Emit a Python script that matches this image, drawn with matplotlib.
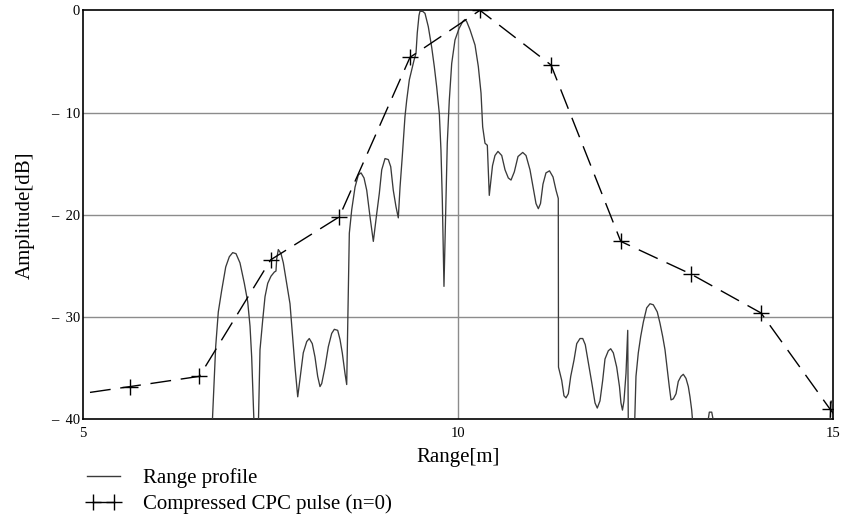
import numpy as np
import matplotlib
matplotlib.use("Agg")
import matplotlib.pyplot as plt
from matplotlib.lines import Line2D
from matplotlib.legend_handler import HandlerLine2D

# ---- data ----
profile_x = [6.72, 6.769, 6.804, 6.849, 6.903, 6.951, 6.996, 7.040, 7.093, 7.151, 7.196, 7.227, 7.249, 7.280,
             7.31, 7.337, 7.360, 7.396, 7.427, 7.463, 7.507, 7.551, 7.573, 7.583, 7.604, 7.640, 7.671, 7.716,
             7.760, 7.791, 7.827, 7.863, 7.907, 7.937, 7.983, 8.017, 8.057, 8.093, 8.129, 8.160, 8.183, 8.227,
             8.271, 8.316, 8.351, 8.396, 8.427, 8.457, 8.493, 8.516, 8.537, 8.551, 8.583, 8.627, 8.671, 8.707,
             8.747, 8.783, 8.827, 8.871, 8.916, 8.951, 8.983, 9.027, 9.071, 9.103, 9.137, 9.173, 9.204, 9.227,
             9.257, 9.293, 9.316, 9.351, 9.383, 9.413, 9.440, 9.457, 9.480, 9.493, 9.529, 9.560, 9.604, 9.649,
             9.684, 9.716, 9.751, 9.773, 9.791, 9.804, 9.813, 9.840, 9.857, 9.884, 9.916, 9.960, 10.013, 10.063,
             10.093, 10.116, 10.160, 10.227, 10.271, 10.307, 10.329, 10.360, 10.391, 10.417, 10.460, 10.493,
             10.533, 10.583, 10.627, 10.671, 10.707, 10.751, 10.800, 10.863, 10.907, 10.960, 11.004, 11.040,
             11.071, 11.100, 11.133, 11.173, 11.220, 11.267, 11.307, 11.337, 11.340, 11.383, 11.413, 11.440,
             11.471, 11.503, 11.547, 11.583, 11.627, 11.663, 11.697, 11.737, 11.783, 11.827, 11.857, 11.893,
             11.929, 11.960, 12.004, 12.036, 12.071, 12.116, 12.153, 12.173, 12.193, 12.213, 12.240, 12.263,
             12.271, 12.31, 12.353, 12.373, 12.404, 12.436, 12.471, 12.516, 12.560, 12.604, 12.657, 12.693,
             12.729, 12.760, 12.791, 12.817, 12.840, 12.871, 12.907, 12.937, 12.973, 13.004, 13.040, 13.071,
             13.093, 13.116, 13.137, 13.23, 13.316, 13.351, 13.383, 13.427, 14.2, 14.955, 14.975, 15.0]
profile_y = [-41.0, -32.9, -29.5, -27.4, -25.1, -24.1, -23.7, -23.8, -24.7, -26.7, -28.5, -30.9, -33.9, -40.4,
             -45.0, -41.0, -33.2, -30.3, -28.0, -26.7, -26.0, -25.6, -25.5, -24.3, -23.4, -23.8, -24.7, -26.7,
             -28.7, -31.6, -34.9, -37.8, -35.2, -33.5, -32.4, -32.1, -32.6, -33.9, -35.8, -36.8, -36.5, -34.9,
             -32.9, -31.6, -31.2, -31.3, -32.2, -33.5, -35.5, -36.6, -27.4, -21.8, -19.5, -17.3, -16.1, -15.9,
             -16.4, -17.6, -20.2, -22.6, -19.9, -17.9, -15.6, -14.5, -14.6, -15.3, -17.6, -19.2, -20.3, -17.3,
             -14.3, -10.4, -8.8, -6.8, -5.8, -4.9, -4.2, -2.2, -0.5, -0.1, -0.1, -0.3, -1.6, -3.6,
             -5.5, -7.5, -10.1, -13.7, -18.6, -23.4, -27.0, -18.6, -13.0, -8.8, -5.2, -2.9, -1.8, -1.1,
             -0.9, -1.1, -1.9, -3.4, -5.5, -8.1, -11.4, -13.0, -13.2, -18.1, -15.2, -14.2,
             -13.8, -14.2, -15.6, -16.4, -16.6, -15.8, -14.3, -13.9, -14.2, -15.6, -17.4, -18.9,
             -19.4, -18.9, -17.0, -15.9, -15.7, -16.3, -17.6, -18.4, -34.9, -36.2, -37.7, -37.9,
             -37.5, -35.8, -34.2, -32.6, -32.1, -32.1, -32.7, -34.4, -36.4, -38.4, -38.9, -38.2,
             -36.2, -34.1, -33.3, -33.1, -33.5, -34.9, -36.8, -38.4, -39.1, -38.2, -35.5, -31.3,
             -41.0, -45.0, -41.0, -35.8, -33.5, -31.9, -30.5, -29.1, -28.7, -28.8, -29.5, -30.6,
             -31.9, -33.2, -35.2, -36.8, -38.1, -38.0, -37.5, -36.3, -35.8, -35.6, -36.0, -36.8,
             -37.8, -39.1, -41.0, -45.0, -41.0, -39.3, -39.3, -41.0, -45.0, -41.0, -38.2, -38.5]

cpc_x = [4.69, 5.627, 6.551, 7.503, 8.417, 9.36, 10.293, 11.24, 12.17, 13.107, 14.04, 14.96, 15.9]
cpc_y = [-37.8, -36.8, -35.8, -24.4, -20.2, -4.6, 0.0, -5.35, -22.6, -25.8, -29.6, -39.0, -48.0]

xticks = [5, 10, 15]
xtick_labels = ["5", "10", "15"]
yticks = [0, -10, -20, -30, -40]
ytick_labels = ["0", "\u2013  10", "\u2013  20", "\u2013  30", "\u2013  40"]

legend_labels = ["Range profile", "Compressed CPC pulse (n=0)"]

# ---- figure ----
plt.rcParams['font.family'] = ['Liberation Serif', 'DejaVu Serif']
fig = plt.figure(figsize=(8.45, 5.17), dpi=100)
ax = fig.add_axes([83/845, 1-419.3/517, 750/845, 409/517])

ax.set_xlim(5, 15)
ax.set_ylim(-40, 0)

for yv in [-10, -20, -30]:
    ax.axhline(yv, color='#8c8c8c', lw=1.0, zorder=1)
ax.axvline(10, color='#8c8c8c', lw=1.0, zorder=1)

ax.plot(profile_x, profile_y, color='#3a3a3a', lw=0.95, zorder=3)
ax.plot(cpc_x, cpc_y, color='black', lw=1.0, dashes=(15, 7), marker='+',
        markersize=11, markeredgewidth=1.0, zorder=4)

ax.set_xticks(xticks)
ax.set_xticklabels(xtick_labels, fontsize=10.5)
ax.set_yticks(yticks)
ax.set_yticklabels(ytick_labels, fontsize=10.5)
ax.tick_params(axis='y', length=0, pad=2)
ax.tick_params(axis='x', length=0, pad=5.5)

for s in ax.spines.values():
    s.set_linewidth(1.2)
    s.set_color('black')

ax.set_xlabel("Range[m]", fontsize=15, labelpad=6)
ax.set_ylabel("Amplitude[dB]", fontsize=15, labelpad=12)

h_profile = Line2D([], [], color='#3a3a3a', lw=1.0)
h_cpc = Line2D([], [], color='black', lw=1.0, marker='+', markersize=11, markeredgewidth=1.0)
fig.legend([h_profile, h_cpc], legend_labels, loc='upper left', bbox_to_anchor=(87/845, 1-468/517),
           frameon=False, fontsize=15, handlelength=1.6, handletextpad=1.1, labelspacing=0.32,
           borderpad=0, borderaxespad=0, numpoints=2,
           handler_map={h_profile: HandlerLine2D(numpoints=1)})

fig.savefig("out.png", dpi=100)
